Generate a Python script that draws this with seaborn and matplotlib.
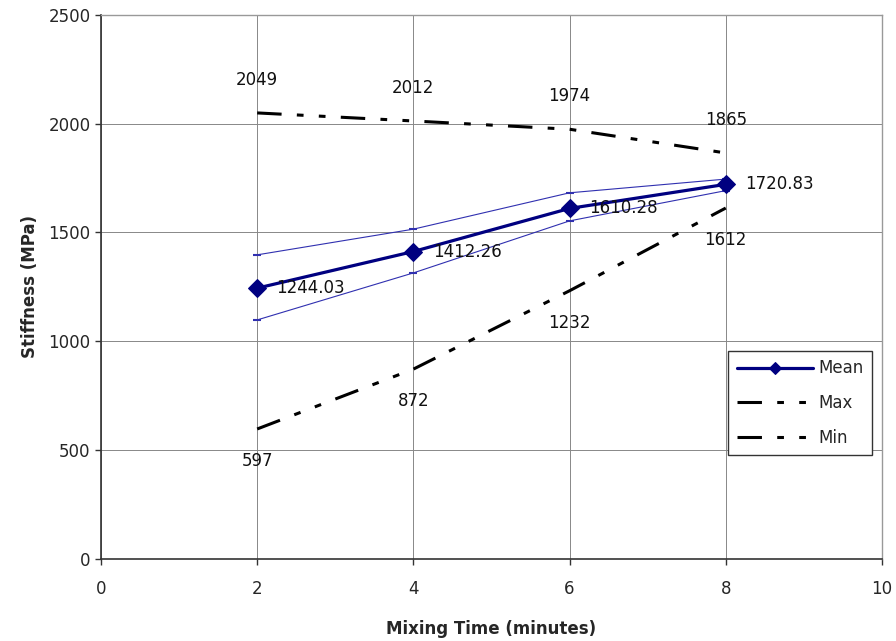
import pandas as pd
import matplotlib.pyplot as plt
import seaborn as sns

# data
mix_time = [2, 4, 6, 8]
stiff_mean = [1244.03, 1412.26, 1610.28, 1720.83]
stiff_upper = [1397, 1515, 1682, 1745]
stiff_lower = [1098, 1314, 1553, 1692]
stiff_max = [2049, 2012, 1974, 1865]
stiff_min = [597, 872, 1232, 1612]

df = pd.DataFrame({
    'time': mix_time,
    'Mean': stiff_mean,
    'upper': stiff_upper,
    'lower': stiff_lower,
    'Max': stiff_max,
    'Min': stiff_min,
})

sns.set_style("ticks")
plt.rcParams['font.family'] = ['DejaVu Sans']

fig = plt.figure(figsize=(8.96, 6.41), dpi=100)
ax = fig.add_axes([0.1127, 0.128, 0.8716, 0.849])

dash = (0, (8, 5, 2.2, 5, 2.2, 5))
navy = '#000080'
thin = '#3030b0'

for col in ['upper', 'lower']:
    sns.lineplot(data=df, x='time', y=col, ax=ax, color=thin, lw=0.8,
                 marker='_', markersize=6, markeredgewidth=1.5,
                 markeredgecolor=thin, label='_nolegend_')
sns.lineplot(data=df, x='time', y='Mean', ax=ax, color=navy, lw=2.3,
             marker='D', markersize=9, markeredgecolor=navy, label='Mean')
sns.lineplot(data=df, x='time', y='Max', ax=ax, color='black', lw=2.2,
             linestyle=dash, label='Max')
sns.lineplot(data=df, x='time', y='Min', ax=ax, color='black', lw=2.2,
             linestyle=dash, label='Min')

for t, v in zip(mix_time, stiff_mean):
    ax.annotate(f"{v:.2f}", (t, v), xytext=(14, 0), textcoords='offset points',
                ha='left', va='center', fontsize=12, color='#111111')
for t, v in zip(mix_time, stiff_max):
    ax.annotate(str(v), (t, v), xytext=(0, 24), textcoords='offset points',
                ha='center', va='center', fontsize=12, color='#111111')
for t, v in zip(mix_time, stiff_min):
    ax.annotate(str(v), (t, v), xytext=(0, -23), textcoords='offset points',
                ha='center', va='center', fontsize=12, color='#111111')

ax.set_xlim(0, 10)
ax.set_ylim(0, 2500)
ax.set_xticks(range(0, 11, 2))
ax.set_yticks(range(0, 2501, 500))
ax.grid(True, color='#888888', lw=0.7)
ax.tick_params(labelsize=12, length=4, width=1, color='#333333')
ax.tick_params(axis='x', pad=11)
for s in ['top', 'right']:
    ax.spines[s].set_color('#999999')
    ax.spines[s].set_linewidth(1)
for s in ['left', 'bottom']:
    ax.spines[s].set_color('#333333')
    ax.spines[s].set_linewidth(1.2)

ax.set_xlabel('Mixing Time (minutes)', fontsize=12, fontweight='bold', labelpad=16)
ax.set_ylabel('Stiffness (MPa)', fontsize=12, fontweight='bold', labelpad=7)

leg = ax.legend(loc='lower right', bbox_to_anchor=(0.987, 0.191), borderaxespad=0,
                fontsize=12, fancybox=False, edgecolor='#333333', framealpha=1,
                handlelength=4.6, borderpad=0.5, labelspacing=1.0, handletextpad=0.3)
leg.get_frame().set_linewidth(1)
for h in leg.legend_handles:
    h.set_markersize(6)

fig.savefig('out.png', dpi=100)
